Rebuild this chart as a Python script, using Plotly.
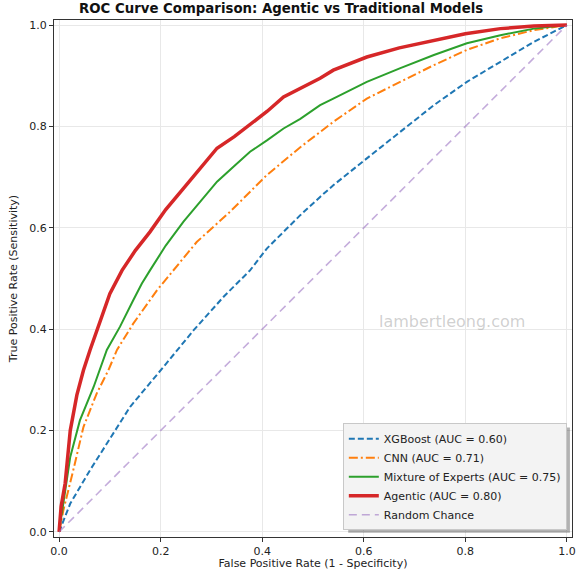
import plotly.graph_objects as go

# ROC points (false positive rate, true positive rate)
xgb_fpr = [0, 0.022, 0.061, 0.094, 0.14, 0.206, 0.265, 0.324, 0.35, 0.376, 0.409,
           0.475, 0.514, 0.54, 0.606, 0.672, 0.738, 0.803, 0.869, 0.935, 1.0]
xgb_tpr = [0, 0.056, 0.122, 0.174, 0.247, 0.326, 0.398, 0.464, 0.49, 0.516, 0.559,
           0.625, 0.661, 0.684, 0.737, 0.789, 0.842, 0.888, 0.928, 0.967, 1.0]

cnn_fpr = [0, 0.0085, 0.028, 0.048, 0.074, 0.097, 0.114, 0.146, 0.193, 0.206, 0.225,
           0.271, 0.337, 0.409, 0.475, 0.514, 0.54, 0.606, 0.672, 0.738, 0.803, 0.869, 0.935, 1.0]
cnn_tpr = [0, 0.043, 0.122, 0.207, 0.273, 0.319, 0.359, 0.411, 0.477, 0.493, 0.516,
           0.572, 0.632, 0.704, 0.759, 0.789, 0.809, 0.855, 0.888, 0.921, 0.951, 0.974, 0.990, 1.0]

moe_fpr = [0, 0.0085, 0.022, 0.041, 0.068, 0.094, 0.12, 0.146, 0.163, 0.179, 0.21, 0.245,
           0.28, 0.311, 0.345, 0.376, 0.41, 0.442, 0.475, 0.514, 0.54, 0.606, 0.672, 0.738,
           0.803, 0.869, 0.935, 1.0]
moe_tpr = [0, 0.056, 0.148, 0.22, 0.286, 0.359, 0.405, 0.457, 0.49, 0.516, 0.565, 0.612,
           0.655, 0.691, 0.722, 0.75, 0.773, 0.796, 0.815, 0.842, 0.855, 0.888, 0.915, 0.941,
           0.964, 0.980, 0.993, 1.0]

agentic_fpr = [0, 0.004, 0.012, 0.022, 0.035, 0.048, 0.061, 0.081, 0.1, 0.124, 0.15, 0.179,
               0.21, 0.245, 0.28, 0.311, 0.345, 0.376, 0.41, 0.442, 0.475, 0.514, 0.54, 0.575,
               0.606, 0.67, 0.738, 0.80, 0.869, 0.935, 1.0]
agentic_tpr = [0, 0.05, 0.096, 0.2, 0.27, 0.319, 0.359, 0.418, 0.47, 0.516, 0.555, 0.592,
               0.636, 0.678, 0.72, 0.757, 0.78, 0.803, 0.83, 0.858, 0.875, 0.895, 0.911, 0.925,
               0.937, 0.955, 0.970, 0.983, 0.993, 0.998, 1.0]

chance = [0, 1]

model_names = ['XGBoost (AUC = 0.60)', 'CNN (AUC = 0.71)',
               'Mixture of Experts (AUC = 0.75)', 'Agentic (AUC = 0.80)', 'Random Chance']
tick_vals = [0, 0.2, 0.4, 0.6, 0.8, 1.0]

fig = go.Figure()

fig.add_trace(go.Scatter(x=xgb_fpr, y=xgb_tpr, mode='lines', name=model_names[0],
                         line=dict(color='#1f77b4', width=2, dash='6px,3px')))
fig.add_trace(go.Scatter(x=cnn_fpr, y=cnn_tpr, mode='lines', name=model_names[1],
                         line=dict(color='#ff7f0e', width=2, dash='9px,3px,2px,3px')))
fig.add_trace(go.Scatter(x=moe_fpr, y=moe_tpr, mode='lines', name=model_names[2],
                         line=dict(color='#2ca02c', width=2)))
fig.add_trace(go.Scatter(x=agentic_fpr, y=agentic_tpr, mode='lines', name=model_names[3],
                         line=dict(color='#d62728', width=3.5)))
fig.add_trace(go.Scatter(x=chance, y=chance, mode='lines', name=model_names[4],
                         line=dict(color='rgba(148,103,189,0.55)', width=1.6, dash='8px,5px')))

axis_style = dict(range=[-0.01, 1.01], tickvals=tick_vals, tickformat='.1f', automargin=False,
                  showgrid=True, gridcolor='#e8e8e8', gridwidth=1, zeroline=False,
                  showline=True, linecolor='#333333', linewidth=1, mirror=True,
                  ticks='outside', ticklen=4, tickcolor='#333333',
                  tickfont=dict(size=11, color='#222222'))

fig.update_layout(
    width=582, height=570,
    margin=dict(l=54, r=10, t=20, b=33),
    plot_bgcolor='white', paper_bgcolor='white',
    font=dict(family='DejaVu Sans', color='#222222'),
    title=dict(text='<b>ROC Curve Comparison: Agentic vs Traditional Models</b>',
               x=0.483, xref='container', xanchor='center',
               y=0.986, yref='container', yanchor='middle', automargin=False,
               font=dict(size=13.3, color='#111111')),
    xaxis=dict(axis_style, title=dict(text='False Positive Rate (1 - Specificity)',
                                      font=dict(size=11))),
    yaxis=dict(axis_style, automargin=True,
               title=dict(text='True Positive Rate (Sensitivity)', font=dict(size=11), standoff=9)),
    legend=dict(x=0.99, y=0.013, xanchor='right', yanchor='bottom',
                bgcolor='rgb(243,243,243)', bordercolor='#c8c8c8', borderwidth=1,
                font=dict(size=11), tracegroupgap=0, itemwidth=30),
    showlegend=True,
)

# legend drop shadow
fig.add_shape(type='rect', xref='paper', yref='paper', x0=0.568, x1=0.996, y0=0.008, y1=0.212,
              fillcolor='rgba(0,0,0,0.3)', line_width=0, layer='above')

# watermark
fig.add_annotation(x=0.774, y=0.416, xref='x', yref='y', text='lambertleong.com',
                   showarrow=False, font=dict(size=16, color='rgba(150,150,150,0.45)'))

fig.write_html("out.html", config={'displayModeBar': False},
               post_script="document.body.style.margin='0';")
